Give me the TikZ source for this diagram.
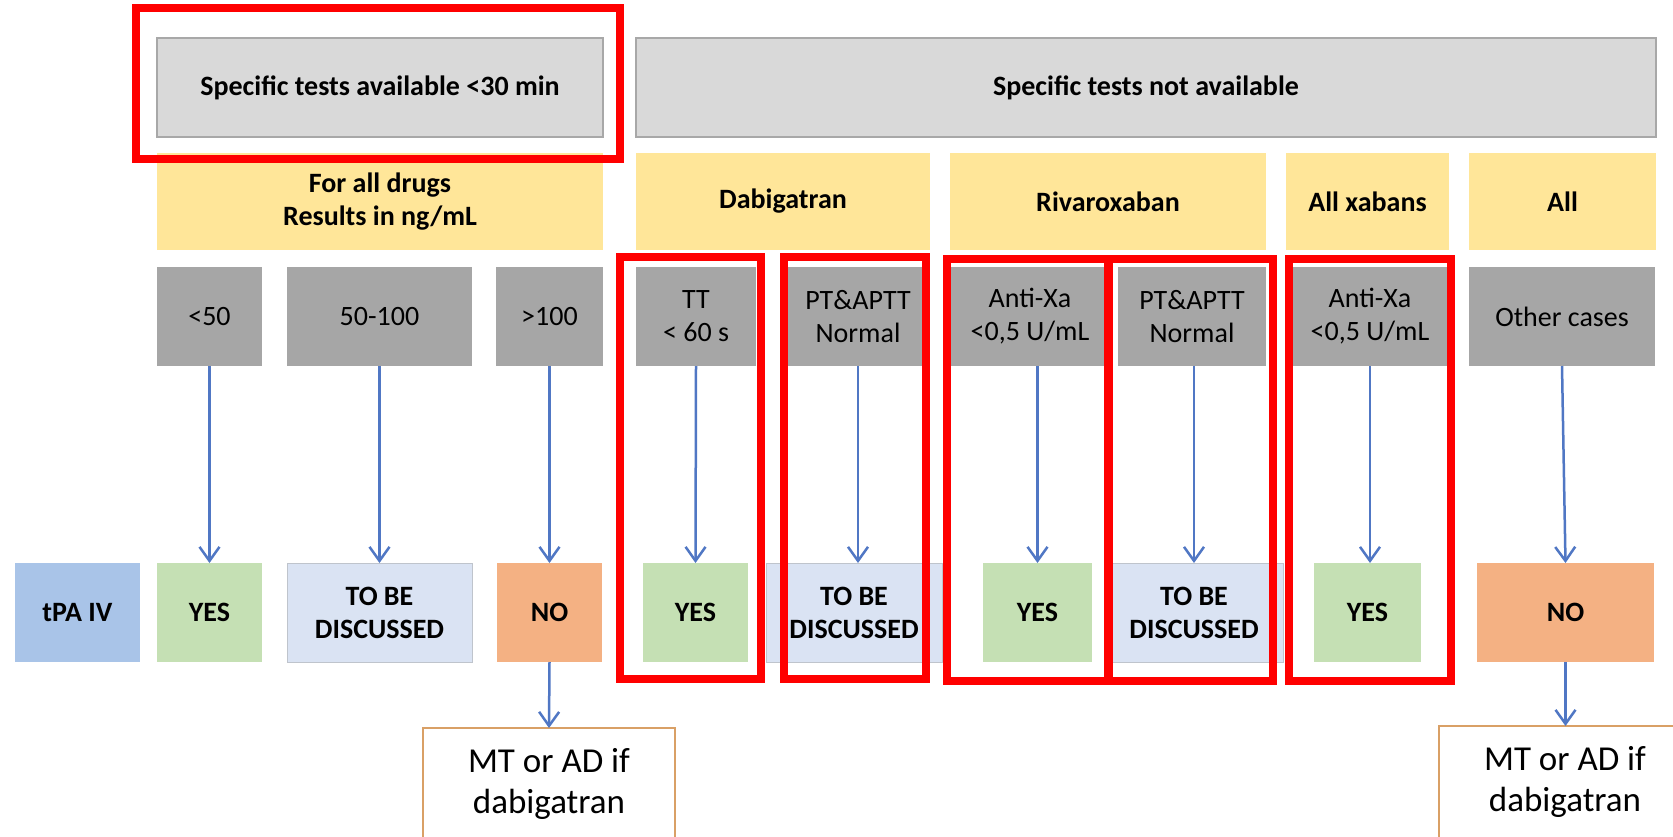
\documentclass[tikz,border=0pt]{standalone}
\usepackage{fontspec}
\setmainfont{Carlito}
\usetikzlibrary{arrows.meta}
\definecolor{greyTop}{HTML}{D9D9D9}
\definecolor{greyTopB}{HTML}{A8A8A8}
\definecolor{yel}{HTML}{FFE699}
\definecolor{greyMid}{HTML}{A6A6A6}
\definecolor{grn}{HTML}{C5E0B4}
\definecolor{tbd}{HTML}{DAE3F3}
\definecolor{tbdB}{HTML}{BFC4CC}
\definecolor{nobox}{HTML}{F4B183}
\definecolor{tpa}{HTML}{A9C4E8}
\definecolor{mtb}{HTML}{D9A066}
\definecolor{arrc}{HTML}{5077C4}
\definecolor{hl}{HTML}{FF0000}
\tikzset{
  base/.style={anchor=north west, inner sep=0pt, outer sep=0pt, align=center,
    font=\fontsize{28}{33}\selectfont},
  topbox/.style={base, fill=greyTop, draw=greyTopB, line width=1.5pt,
    font=\bfseries\fontsize{28}{33}\selectfont},
  drugbox/.style={base, fill=yel, font=\bfseries\fontsize{28}{33}\selectfont},
  testbox/.style={base, fill=greyMid},
  yesbox/.style={base, fill=grn, font=\bfseries\fontsize{28}{33}\selectfont},
  tbdbox/.style={base, fill=tbd, draw=tbdB, line width=1pt, font=\bfseries\fontsize{28}{33}\selectfont},
  nobox/.style={base, fill=nobox, font=\bfseries\fontsize{28}{33}\selectfont},
  tpabox/.style={base, fill=tpa, font=\bfseries\fontsize{28}{33}\selectfont},
  mtbox/.style={base, fill=white, draw=mtb, line width=2.5pt, font=\fontsize{35}{41}\selectfont},
  arrowline/.style={draw=arrc, line width=2.5pt, -{Straight Barb[length=14pt,width=20pt,line width=2.5pt]}},
  redbox/.style={draw=hl, line width=7.5pt},
}
\begin{document}
\begin{tikzpicture}[x=1pt,y=-1pt]
\useasboundingbox (0,0) rectangle (1673,836);
\fill[white] (0,0) rectangle (1673,836);
\clip (0,0) rectangle (1673,836);

% row 1
\node[topbox, minimum width=446pt, minimum height=99pt] (gl) at (157,38) {Specific tests available <30 min};
\node[topbox, minimum width=1020pt, minimum height=99pt] (gr) at (636,38) {Specific tests not available};

% row 2
\node[drugbox, minimum width=446pt, minimum height=97pt] (y1) at (157,153) {For all drugs\\Results in ng/mL};
\node[drugbox, minimum width=294pt, minimum height=97pt] (y2) at (636,153) {Dabigatran};
\node[drugbox, minimum width=316pt, minimum height=97pt] (y3) at (950,153) {Rivaroxaban};
\node[drugbox, minimum width=163pt, minimum height=97pt] (y4) at (1286,153) {All xabans};
\node[drugbox, minimum width=187pt, minimum height=97pt] (y5) at (1469,153) {All};

% row 3
\node[testbox, minimum width=105pt, minimum height=99pt] (g1) at (157,267) {<50};
\node[testbox, minimum width=185pt, minimum height=99pt] (g2) at (287,267) {50-100};
\node[testbox, minimum width=107pt, minimum height=99pt] (g3) at (496,267) {>100};
\node[testbox, minimum width=120pt, minimum height=99pt] (g4) at (636,267) {TT\\< 60 s};
\node[testbox, minimum width=140pt, minimum height=99pt] (g5) at (788,267) {PT\&APTT\\Normal};
\node[testbox, minimum width=160pt, minimum height=99pt] (g6) at (950,267) {Anti-Xa\\<0,5 U/mL};
\node[testbox, minimum width=148pt, minimum height=99pt] (g7) at (1118,267) {PT\&APTT\\Normal};
\node[testbox, minimum width=154pt, minimum height=99pt] (g8) at (1293,267) {Anti-Xa\\<0,5 U/mL};
\node[testbox, minimum width=186pt, minimum height=99pt] (g9) at (1469,267) {Other cases};

% row 4
\node[tpabox, minimum width=125pt, minimum height=99pt] (tpa) at (15,563) {tPA IV};
\node[yesbox, minimum width=105pt, minimum height=99pt] (r1) at (157,563) {YES};
\node[tbdbox, minimum width=185pt, minimum height=99pt] (r2) at (287,563) {TO BE\\DISCUSSED};
\node[nobox, minimum width=105pt, minimum height=99pt] (r3) at (497,563) {NO};
\node[yesbox, minimum width=105pt, minimum height=99pt] (r4) at (643,563) {YES};
\node[tbdbox, minimum width=176pt, minimum height=99pt] (r5) at (766,563) {TO BE\\DISCUSSED};
\node[yesbox, minimum width=109pt, minimum height=99pt] (r6) at (983,563) {YES};
\node[tbdbox, minimum width=178pt, minimum height=99pt] (r7) at (1105,563) {TO BE\\DISCUSSED};
\node[yesbox, minimum width=107pt, minimum height=99pt] (r8) at (1314,563) {YES};
\node[nobox, minimum width=177pt, minimum height=99pt] (r9) at (1477,563) {NO};

% row 5
\node[mtbox, minimum width=252pt, minimum height=112pt] (m1) at (423,728) {MT or AD if\\dabigatran};
\node[mtbox, minimum width=252pt, minimum height=112pt] (m2) at (1439,726) {MT or AD if\\dabigatran};

% arrows
\draw[arrowline] (g1.south) -- (r1.north);
\draw[arrowline] (g2.south) -- (r2.north);
\draw[arrowline] (g3.south) -- (r3.north);
\draw[arrowline] (g4.south) -- (r4.north);
\draw[arrowline] (g5.south) -- (r5.north -| g5.south);
\draw[arrowline] (r6.north |- g6.south) -- (r6.north);
\draw[arrowline] (r7.north |- g7.south) -- (r7.north);
\draw[arrowline] (g8.south) -- (r8.north -| g8.south);
\draw[arrowline] (g9.south) -- (r9.north);
\draw[arrowline] (r3.south) -- (m1.north);
\draw[arrowline] (r9.south) -- (r9.south |- m2.north);

% highlight frames
\draw[redbox] (136,8) rectangle (620,159);
\draw[redbox] (620,257) rectangle (761,679);
\draw[redbox] (784,257) rectangle (926,679);
\draw[redbox] (947,259) rectangle (1108,681);
\draw[redbox] (1109,259) rectangle (1273,681);
\draw[redbox] (1289,259) rectangle (1451,681);
\end{tikzpicture}
\end{document}
